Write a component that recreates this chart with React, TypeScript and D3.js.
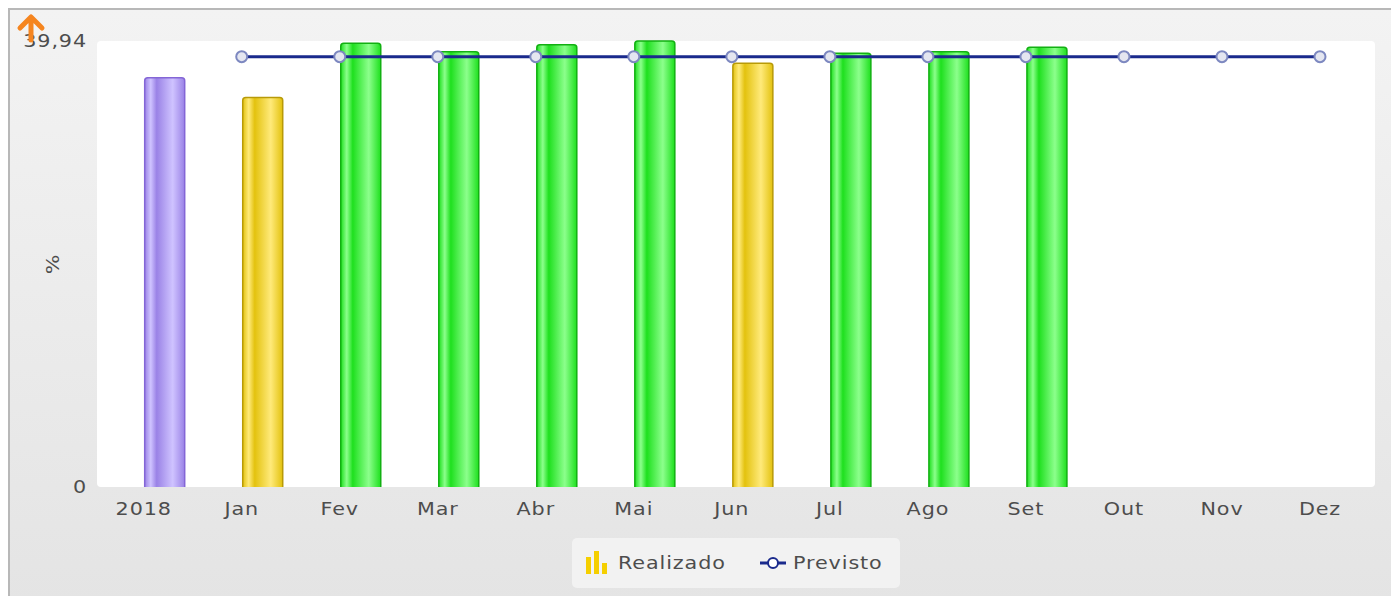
import React from "react";
import * as d3 from "d3";

const categories = ["2018", "Jan", "Fev", "Mar", "Abr", "Mai", "Jun", "Jul", "Ago", "Set", "Out", "Nov", "Dez"];
const realizado: (number | null)[] = [36.66, 34.87, 39.73, 38.98, 39.61, 39.94, 37.95, 38.84, 38.98, 39.38, null, null, null];
const realizadoColor = ["purple", "yellow", "green", "green", "green", "green", "yellow", "green", "green", "green", "green", "green", "green"];
const previsto: (number | null)[] = [null, 38.54, 38.54, 38.54, 38.54, 38.54, 38.54, 38.54, 38.54, 38.54, 38.54, 38.54, 38.54];
const yTicks = [0, 39.94];
const yTickLabels = ["0", "39,94"];

const W = 1391;
const H = 596;
const plot = { left: 97, right: 1375, top: 41, bottom: 487 };
const FONT = "'DejaVu Sans', Verdana, sans-serif";
const FS = 18.5;
const LS = 0.8;
const SX = 1.12;

const palette: Record<string, { a: string; b: string; stroke: string }> = {
  purple: { a: "#9a82e6", b: "#cfc3ff", stroke: "#8466d6" },
  yellow: { a: "#e3c20e", b: "#ffea7a", stroke: "#b89a08" },
  green: { a: "#1ee01e", b: "#8cff8c", stroke: "#12b012" },
};

function Label(props: { x: number; y: number; anchor?: "start" | "middle" | "end"; rotate?: number; children: React.ReactNode }) {
  const { x, y, anchor = "start", rotate = 0, children } = props;
  return (
    <text
      transform={`translate(${x},${y}) rotate(${rotate}) scale(${SX},1)`}
      textAnchor={anchor}
      dy="0.35em"
      fontFamily={FONT}
      fontSize={FS}
      letterSpacing={LS}
      fill="#4d4d4d"
    >
      {children}
    </text>
  );
}

export default function App() {
  const x = d3.scalePoint<string>().domain(categories).range([143.7, 1320]);
  const y = d3.scaleLinear().domain([0, 39.94]).range([plot.bottom, plot.top]);
  const barW = 40;

  const lineData = categories
    .map((c, i) => ({ c, v: previsto[i] }))
    .filter((d) => d.v !== null) as { c: string; v: number }[];
  const line = d3
    .line<{ c: string; v: number }>()
    .x((d) => x(d.c)!)
    .y((d) => y(d.v));

  return (
    <svg width={W} height={H} style={{ position: "absolute", left: 0, top: 0 }}>
      <defs>
        <linearGradient id="bg" x1="0" y1="0" x2="0" y2="1">
          <stop offset="0" stopColor="#f3f3f3" />
          <stop offset="1" stopColor="#e4e4e4" />
        </linearGradient>
        {Object.entries(palette).map(([k, p]) => (
          <linearGradient key={k} id={"g-" + k} x1="0" y1="0" x2="1" y2="0">
            <stop offset="0" stopColor={p.a} />
            <stop offset="0.15" stopColor={p.b} />
            <stop offset="0.3" stopColor={p.a} />
            <stop offset="0.7" stopColor={p.b} />
            <stop offset="1" stopColor={p.a} />
          </linearGradient>
        ))}
      </defs>
      <rect x={0} y={0} width={W} height={H} fill="#ffffff" />
      <rect x={8} y={9} width={W} height={H} fill="url(#bg)" />
      <line x1={8} y1={9} x2={W} y2={9} stroke="#b8b8b8" strokeWidth={2} />
      <line x1={9} y1={9} x2={9} y2={H} stroke="#b8b8b8" strokeWidth={2} />

      <rect
        x={plot.left}
        y={plot.top}
        width={plot.right - plot.left}
        height={plot.bottom - plot.top}
        rx={4}
        fill="#ffffff"
      />

      {/* y-axis ticks */}
      {yTicks.map((t, i) => (
        <Label key={t} x={87} y={y(t)} anchor="end">
          {yTickLabels[i]}
        </Label>
      ))}
      <Label x={53} y={264} anchor="middle" rotate={-90}>
        %
      </Label>

      {/* bars */}
      {categories.map((c, i) => {
        const v = realizado[i];
        if (v === null) return null;
        const p = palette[realizadoColor[i]];
        const x0 = x(c)! + 1;
        const top = y(v);
        return (
          <path
            key={c}
            d={`M${x0},${plot.bottom} L${x0},${top + 3} Q${x0},${top} ${x0 + 3},${top} L${x0 + barW - 3},${top} Q${x0 + barW},${top} ${x0 + barW},${top + 3} L${x0 + barW},${plot.bottom}`}
            fill={`url(#g-${realizadoColor[i]})`}
            stroke={p.stroke}
            strokeWidth={1.5}
          />
        );
      })}

      {/* x labels */}
      {categories.map((c) => (
        <Label key={c} x={x(c)!} y={509} anchor="middle">
          {c}
        </Label>
      ))}

      {/* previsto line */}
      <path d={line(lineData) || ""} fill="none" stroke="#1a2a8c" strokeWidth={3} />
      {lineData.map((d) => (
        <circle key={d.c} cx={x(d.c)!} cy={y(d.v)} r={5.5} fill="#e4e6f0" stroke="#7d88c0" strokeWidth={2} />
      ))}

      {/* legend */}
      <rect x={572} y={538} width={328} height={50} rx={5} fill="#f2f2f2" />
      <g fill="#f5cf00">
        <rect x={586} y={557} width={5} height={17} />
        <rect x={594} y={551} width={5} height={23} />
        <rect x={602} y={563} width={5} height={11} />
      </g>
      <Label x={618} y={563}>Realizado</Label>
      <line x1={760} y1={563} x2={786} y2={563} stroke="#1a2a8c" strokeWidth={3} />
      <circle cx={773} cy={563} r={5} fill="#ffffff" stroke="#1a2a8c" strokeWidth={2} />
      <Label x={793} y={563}>Previsto</Label>

      {/* orange arrow */}
      <path
        d="M31,40 L31,22 M20,28 L31,17 L42,28"
        fill="none"
        stroke="#f5851f"
        strokeWidth={5}
        strokeLinecap="round"
        strokeLinejoin="round"
      />
    </svg>
  );
}
